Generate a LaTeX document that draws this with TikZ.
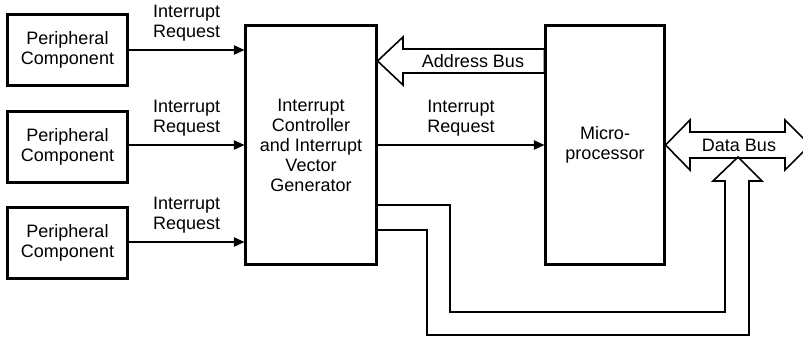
\documentclass[tikz,border=0pt]{standalone}
\usepackage{fontspec}
\setmainfont{Liberation Sans}
\usetikzlibrary{arrows.meta,positioning}

\begin{document}
\begin{tikzpicture}[x=0.75pt,y=-0.75pt,
    every node/.style={font=\fontsize{13.5}{15}\selectfont},
    unit/.style={draw,line width=1.8pt,align=center,inner sep=0pt},
    periph/.style={unit,minimum width=90pt,minimum height=53pt},
    req/.style={line width=1.2pt,-{Triangle[length=8pt,width=7pt]}},
    reqlabel/.style={above=6pt,inner sep=0pt,align=center},
    bus/.style={draw,line width=1.2pt,line join=miter}]
            \useasboundingbox (0,0) rectangle (803,339);
            \clip (0,0) rectangle (803,339);
            \node[periph] (pc1) at (67.5,50) {Peripheral\\Component};
            \node[periph] (pc2) at (67.5,147) {Peripheral\\Component};
            \node[periph] (pc3) at (67.5,243) {Peripheral\\Component};
            \node[unit,minimum width=98pt,minimum height=179pt] (ctrl) at (311,145) {Interrupt\\Controller\\and Interrupt\\Vector\\Generator};
            \node[unit,minimum width=89pt,minimum height=179pt] (mpu) at (605,145) {Micro-\\processor};
            \draw[req] (pc1.east) -- node[midway,reqlabel] {Interrupt\\Request} (pc1.east -| ctrl.west);
            \draw[req] (pc2.east |- 0,145) -- node[midway,reqlabel] {Interrupt\\Request} (ctrl.west |- 0,145);
            \draw[req] (pc3.east |- 0,242) -- node[midway,reqlabel] {Interrupt\\Request} (ctrl.west |- 0,242);
            \draw[req] (ctrl.east) -- node[midway,reqlabel] {Interrupt\\Request} (mpu.west);
            % address bus
            \draw[bus] (ctrl.east |- 0,61) -- (403,37) -- (403,49) -- (mpu.west |- 0,49) -- (mpu.west |- 0,73) -- (403,73) -- (403,85) -- cycle;
            \node (abus) at (473,61) {Address Bus};
            % data bus
            \draw[bus] (mpu.east) -- (690,120) -- (690,132) -- (785,132) -- (785,120) -- (810,145) -- (785,170) -- (785,158) -- (690,158) -- (690,170) -- cycle;
            \node (dbus) at (739,145) {Data Bus};
            \draw[bus] (ctrl.east |- 0,205) -- (450,205) -- (450,312) -- (725,312) -- (725,181) -- (713,181) -- (738,157) -- (762,181) -- (749,181) -- (749,335) -- (427,335) -- (427,230) -- (ctrl.east |- 0,230);
        \end{tikzpicture}
\end{document}
